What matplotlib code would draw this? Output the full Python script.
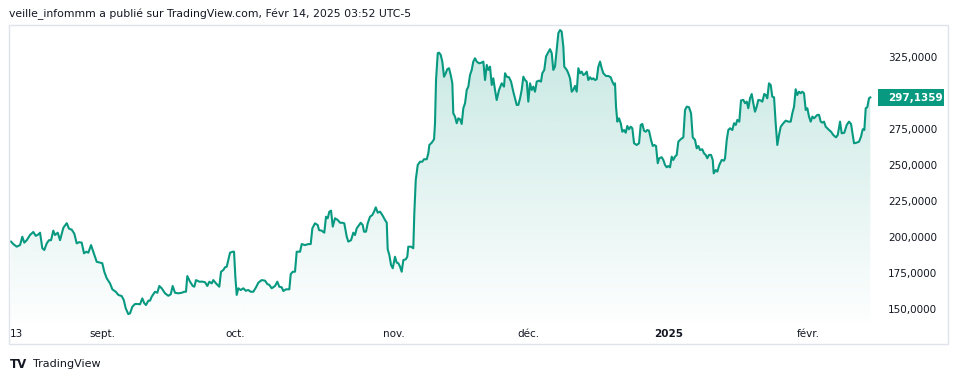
import numpy as np
import matplotlib
matplotlib.use("Agg")
import matplotlib.pyplot as plt
from matplotlib.patches import Rectangle
from matplotlib.transforms import blended_transform_factory
from matplotlib.ticker import FuncFormatter

# séance (index de jour de bourse, fractionnaire = intrajournalier) et cours
days_aug_sep = [0.15, 0.48, 0.98, 1.47, 1.80, 2.09, 2.45, 2.93, 3.41, 3.77, 4.15, 4.40, 4.73, 5.02,
                5.38, 5.71, 6.01, 6.34, 6.59, 6.99, 7.33, 7.81, 8.31, 8.64, 9.04, 9.42, 9.77, 10.11,
                10.50, 10.84, 11.18, 11.47, 11.87, 12.20, 12.70, 13.19, 13.52, 13.81, 14.17, 14.65,
                14.99, 15.49, 15.87, 16.36, 16.66, 16.95, 17.33, 17.58, 17.92, 18.31, 18.71, 19.05,
                19.38, 19.67, 19.92, 20.26]
price_aug_sep = [197, 195.3, 193.5, 194.6, 200.4, 196.3, 198, 201.6, 203.7, 201, 202, 203.2, 192.4, 191.2,
                 195.8, 198, 198, 204.6, 201.6, 203.2, 198, 206.6, 209.8, 206, 205.3, 202.5, 195.8, 196.6,
                 196.3, 188.9, 190, 189.3, 194.6, 190, 183, 182.4, 182, 176.1, 171.5, 168,
                 163.9, 162.2, 160, 159.2, 156.5, 150.7, 146.7, 147.2, 151.8, 153.7, 153.7, 153.5,
                 157.6, 154.2, 153, 156]

days_sep_oct = [20.51, 20.76, 21.24, 21.58, 21.87, 22.22, 22.71, 23.19, 23.54, 23.83, 24.17, 24.66, 25.15,
                25.53, 25.78, 25.97, 26.37, 26.77, 27.00, 27.25, 27.73, 28.23, 28.57, 28.90, 29.20, 29.55,
                29.78, 30.18, 30.66, 30.91, 31.25, 31.50, 31.75, 31.98, 32.23, 32.63, 32.82, 33.01, 33.21,
                33.45, 33.80, 34.18, 34.53, 34.91, 35.26, 35.64, 36.04, 36.38, 36.87, 37.36, 37.69, 37.99,
                38.34, 38.82, 39.16, 39.45, 39.80, 40.04, 40.43, 40.92, 41.12, 41.42, 41.75, 42.00]
price_sep_oct = [156, 158.8, 162.2, 161.5, 166.2, 164.6, 161.1, 159.4, 160.4, 166.2, 161.5, 161.1, 161.5,
                 162.2, 162.2, 173.1, 169.2, 166.2, 165.7, 170.3, 169.2, 169.2, 168.8, 166.2, 169.2, 168,
                 170.3, 168, 165.7, 176.1, 177.3, 179.2, 179.6, 184.2, 189.3, 190, 190, 172.6, 160,
                 164.6, 163.4, 164.6, 162.9, 163.4, 162.2, 162.2, 165.3, 168.5, 170.3, 169.9, 167.6, 166.9,
                 164.6, 166.2, 169.2, 165.7, 165.3, 162.7, 163.9, 163.9, 174.4, 176.1, 176.1, 190]

days_oct_nov = [42.49, 42.73, 43.22, 43.70, 44.05, 44.29, 44.68, 45.08, 45.27, 45.66, 46.04, 46.29, 46.54,
                46.78, 47.03, 47.28, 47.61, 48.01, 48.35, 48.68, 48.97, 49.33, 49.56, 49.96, 50.29, 50.54,
                50.79, 51.13, 51.38, 51.67, 51.86, 52.15, 52.40, 52.74, 53.08, 53.33, 53.58, 53.87, 54.21,
                54.54, 54.94, 55.19, 55.33, 55.57, 55.82, 56.07, 56.40, 56.65, 56.89, 57.14, 57.38, 57.62,
                57.97, 58.20, 58.35, 58.75, 59.08, 59.23, 59.44, 59.73, 60.07, 60.40, 60.65, 61.05, 61.28,
                61.43, 61.78, 62.12, 62.26, 62.41, 62.66, 62.85]
price_oct_nov = [190, 195.3, 194.6, 195.3, 195.3, 206.2, 209.7, 208.5, 205, 204.6, 203.2, 214.3, 213.2,
                 217.8, 218.5, 207.4, 213.2, 212, 210.1, 210.1, 209.7, 200.4, 197, 198, 203.2, 201.6,
                 206.2, 208.5, 210.1, 208.5, 203.9, 203.9, 209.7, 214.3, 215.5, 217.8, 220.8, 217.1, 217.8,
                 215.5, 212, 210.1, 191.7, 187.7, 180.8, 178.5, 186.5, 182.4, 182, 179.6, 176.1, 184.2,
                 184.7, 186.5, 193.5, 193.5, 192.4, 216.7, 239.8, 250.2, 252.5, 252.5, 254.2, 254.2, 258.3,
                 264.1, 265.7, 268.1, 279.2, 309.2, 327.8, 328.2]

days_nov_dec = [63.10, 63.33, 63.58, 63.83, 64.06, 64.31, 64.56, 64.80, 64.94, 65.19, 65.44, 65.68, 65.93,
                66.17, 66.41, 66.66, 66.91, 67.14, 67.39, 67.64, 67.87, 68.12, 68.37, 68.71, 69.10, 69.34,
                69.59, 69.84, 70.07, 70.32, 70.57, 70.80, 71.05, 71.30, 71.64, 72.03, 72.37, 72.52, 72.77,
                73.10, 73.40, 73.73, 73.98, 74.23, 74.47, 74.72, 74.96, 75.20, 75.45, 75.70, 75.93, 76.18,
                76.43, 76.66, 76.91, 77.16, 77.50, 77.79, 77.98, 78.27, 78.52, 78.77, 79.11, 79.36, 79.59,
                79.84, 80.09, 80.33, 80.58, 80.82, 81.06, 81.20, 81.56, 81.79, 82.04, 82.29, 82.52, 82.77,
                83.02, 83.26]
price_nov_dec = [326.6, 322, 311.5, 313.9, 316.7, 317.4, 312.7, 306.9, 286.1, 283.8, 279.2, 282.6, 281.9,
                 278.7, 289.6, 293.1, 302.3, 304.6, 312.7, 316.2, 322, 324.3, 322, 320.8, 321.3, 322,
                 309.2, 319.7, 316.2, 318.5, 305.8, 310.4, 302.3, 295.3, 302.3, 306.9, 304.6, 313.9, 311.5,
                 311.1, 308.1, 301.1, 296.5, 291.9, 291.9, 296.5, 302.3, 311.5, 309.2, 308.1, 294.2, 306.9,
                 302.3, 304.6, 301.1, 308.1, 308.8, 308.1, 313.9, 316.2, 325.4, 327.8, 330.6, 327.8, 316.2,
                 318.5, 330.1, 341.7, 343.9, 342.8, 332.4, 318.5, 316.2, 313.9, 310.4, 301.1, 302.3, 305.1,
                 301.1, 317.4]

days_dec_jan = [83.51, 83.75, 83.99, 84.24, 84.49, 84.72, 84.97, 85.22, 85.45, 85.70, 85.95, 86.19, 86.44,
                86.68, 86.92, 87.31, 87.65, 88.00, 88.24, 88.49, 88.63, 88.78, 88.97, 89.22, 89.47, 89.70,
                89.95, 90.20, 90.43, 90.68, 90.93, 91.17, 91.42, 91.81, 92.15, 92.40, 92.63, 92.88, 93.13,
                93.36, 93.61, 93.91, 94.16, 94.39, 94.64, 94.89, 95.12, 95.47, 95.71, 95.96, 96.21, 96.44,
                96.69, 96.94, 97.17, 97.42, 97.67, 97.91, 98.26, 98.64, 98.89, 99.14, 99.47, 99.77, 100.02,
                100.35, 100.60, 100.84, 101.09, 101.42, 101.67, 101.92, 102.15, 102.40, 102.70, 102.95,
                103.09, 103.39, 103.62, 103.91, 104.26, 104.60]
price_dec_jan = [313.9, 315, 312.7, 313.4, 315, 309.2, 311.1, 309.7, 310.4, 309.2, 309.7, 318.5, 322,
                 317.4, 313.9, 312, 312, 311.1, 308.1, 305.8, 306.9, 290.7, 280.3, 282.6, 279.2, 273.3,
                 274.5, 272.6, 277.3, 275, 276.8, 275.7, 265.3, 264.1, 265.3, 278, 278.7, 274, 273.3,
                 274.5, 274, 267.6, 263.4, 264.1, 263.4, 251.4, 254.9, 255.6, 253.7, 250.2, 248.6, 249.5,
                 248.6, 256, 253.7, 256, 257.2, 266.4, 268.1, 269.4, 288.4, 290.7, 290.3, 286.1, 269.4,
                 267.6, 261.8, 263.4, 260.6, 261.1, 258.3, 257.2, 254.9, 257.2, 257.2, 253.7,
                 244.4, 246.7, 245.6, 250.2, 253.7, 253.2]

days_jan_feb = [104.75, 105.00, 105.23, 105.48, 105.82, 106.07, 106.32, 106.55, 106.84, 107.09, 107.43,
                107.68, 107.93, 108.16, 108.41, 108.66, 108.89, 109.14, 109.39, 109.63, 109.98, 110.21,
                110.50, 110.71, 110.94, 111.19, 111.44, 111.68, 111.93, 112.17, 112.41, 112.66, 112.91,
                113.29, 113.64, 114.02, 114.37, 114.61, 114.86, 115.10, 115.34, 115.59, 115.84, 116.07,
                116.32, 116.57, 116.81, 117.05, 117.30, 117.54, 117.79, 118.04, 118.27, 118.52, 118.77,
                119.00, 119.25, 119.50, 119.88, 120.28, 120.61, 121.01, 121.26, 121.60, 121.84, 122.22,
                122.58, 122.91, 123.21, 123.46, 123.65, 124.04, 124.38, 124.67, 124.92, 125.16, 125.36,
                125.59, 125.84, 126.03]
price_jan_feb = [254.9, 267.6, 274.5, 275.7, 274.5, 279.2, 278, 281.5, 280.3, 295, 295.4,
                 293.1, 294.2, 289.6, 296.5, 299.5, 293.1, 287.2, 290.7, 295.4, 295, 294.2,
                 299.5, 298.8, 296.5, 306.9, 305.8, 297.6, 297.2, 279.2, 264.1, 271, 276.8,
                 279.2, 281, 280.3, 280.3, 286.1, 290.7, 302.8, 298.8, 301.1, 300, 301.1,
                 300, 288.4, 289.6, 283.8, 280.3, 283.8, 282.6, 283.8, 285, 285, 280.3,
                 279.6, 280.3, 276.8, 275, 273.3, 271, 269.4, 271, 280.3, 272.2, 272.6,
                 278, 280.3, 278.7, 271, 265.3, 265.7, 266.4, 269.9, 275, 274.5, 289.6,
                 290.3, 296.5, 297.1359]

last_price = 297.1359
y_ticks = [150, 175, 200, 225, 250, 275, 300, 325]
x_tick_pos = [0, 13.48, 32.96, 56.26, 75.89, 96.54, 116.91]
x_tick_labels = ["13", "sept.", "oct.", "nov.", "déc.", "2025", "févr."]

TITLE = "veille_infommm a publié sur TradingView.com, Févr 14, 2025 03:52 UTC-5"
GREEN = "#089981"
TXT = "#131722"

days = np.array(days_aug_sep + days_sep_oct + days_oct_nov + days_nov_dec + days_dec_jan + days_jan_feb)
price = np.array(price_aug_sep + price_sep_oct + price_oct_nov + price_nov_dec + price_dec_jan + price_jan_feb)

W, H = 958, 382
fig = plt.figure(figsize=(W / 100, H / 100), dpi=100)
fig.patch.set_facecolor("white")

# cadre du graphique
fig.add_artist(Rectangle((9 / W, 1 - 344 / H), 939 / W, 319 / H, transform=fig.transFigure,
                         fill=False, edgecolor="#e0e3eb", lw=1))

ax = fig.add_axes([9 / W, 1 - 322 / H, 866 / W, 296 / H])
ax.set_xlim(-0.15, 126.72)
ylo, yhi = 141.2, 346.7
ax.set_ylim(ylo, yhi)
for s in ax.spines.values():
    s.set_visible(False)

# remplissage en dégradé sous la courbe
grad = np.zeros((256, 1, 4))
r, g, b = matplotlib.colors.to_rgb(GREEN)
grad[:, 0, 0], grad[:, 0, 1], grad[:, 0, 2] = r, g, b
grad[:, 0, 3] = np.linspace(0.01, 0.23, 256) ** 1.0
poly = ax.fill_between(days, price, ylo, facecolor="none", edgecolor="none")
im = ax.imshow(grad, extent=(days[0], days[-1], ylo, price.max()), origin="lower",
               aspect="auto", zorder=1, interpolation="bilinear")
im.set_clip_path(poly.get_paths()[0], transform=ax.transData)

ax.plot(days, price, color=GREEN, lw=1.5, zorder=3, solid_joinstyle="round")

ax.yaxis.tick_right()
ax.set_yticks(y_ticks)
ax.yaxis.set_major_formatter(FuncFormatter(lambda v, _: f"{v:.4f}".replace(".", ",")))
ax.tick_params(axis="y", length=0, pad=9.5, labelsize=7.5, labelcolor=TXT)
ax.set_xticks(x_tick_pos)
ax.set_xticklabels(x_tick_labels)
ax.tick_params(axis="x", length=0, pad=5, labelsize=7.5, labelcolor=TXT)
lbls = ax.get_xticklabels()
lbls[0].set_ha("left")
lbls[5].set_fontweight("bold")

# étiquette du dernier cours (masque l'étiquette 300 comme sur l'original)
tr = blended_transform_factory(ax.transAxes, ax.transData)
ax.add_patch(Rectangle((1 + 3 / 866, last_price - 5.9), 66 / 866, 11.4, transform=tr,
                       facecolor=GREEN, edgecolor="none", clip_on=False, zorder=5))
ax.text(1 + 13 / 866, last_price - 0.3, f"{last_price:.4f}".replace(".", ","), transform=tr,
        ha="left", va="center", color="white", fontsize=7.5, fontweight="bold", zorder=6, clip_on=False)

fig.text(9 / W, 1 - 14 / H, TITLE, ha="left", va="center", fontsize=7.8, color=TXT)

# logo TradingView
fig.text(10 / W, 1 - 364 / H, "TV", ha="left", va="center", fontsize=8.5, fontweight="bold",
         color=TXT)
fig.text(33 / W, 1 - 364 / H, "TradingView", ha="left", va="center", fontsize=8, color=TXT)

fig.savefig("out.png", dpi=100)
